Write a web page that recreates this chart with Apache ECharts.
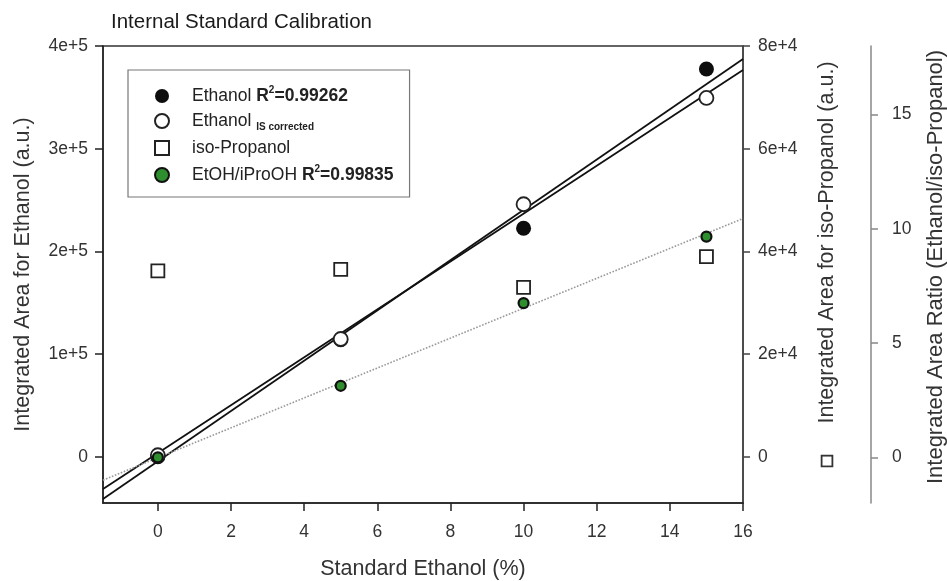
<!DOCTYPE html>
<html>
<head>
<meta charset="utf-8">
<title>Internal Standard Calibration</title>
<script src="https://cdn.jsdelivr.net/npm/echarts@6/dist/echarts.min.js"></script>
<style>
  html, body { margin: 0; padding: 0; background: #fff; }
  #chart { width: 947px; height: 581px; }
</style>
</head>
<body>
<div id="chart"></div>
<script>
// standard ethanol concentrations (%)
var xValues = [0, 5, 10, 15]
// integrated areas
var ethanol = [0, 114000, 222500, 377600]
var ethanolCorrected = [1500, 114700, 245900, 349400]
var isoPropanol = [36200, 36500, 33000, 39000]
var ratio = [0, 3.13, 6.75, 9.66]
// regression lines, end points read at the plot edges
var ethanolFit = [[-1.5, -41100], [16, 387300]]
var correctedFit = [[-1.5, -31400], [16, 376600]]
var ratioFit = [[-1.5, -1.0], [16, 10.45]]
// tick values and labels
var xTicks = [0, 2, 4, 6, 8, 10, 12, 14, 16]
var leftTicks = [0, 100000, 200000, 300000, 400000]
var leftTickLabels = ['0', '1e+5', '2e+5', '3e+5', '4e+5']
var isoTicks = [0, 20000, 40000, 60000, 80000]
var isoTickLabels = ['0', '2e+4', '4e+4', '6e+4', '8e+4']
var ratioTicks = [0, 5, 10, 15]

var FONT = "'Liberation Sans', Arial, sans-serif"

function pairs(ys) {
  return xValues.map(function (x, i) { return [x, ys[i]] })
}
function labelFrom(ticks, labels) {
  return function (v) {
    var i = ticks.indexOf(v)
    return i >= 0 ? labels[i] : ''
  }
}

var chart = echarts.init(document.getElementById('chart'), null, { renderer: 'canvas' })

var legendLabels = {
  'Ethanol': '{sp| }{t|Ethanol }{b|R}{sup|2}{b|=0.99262}',
  'Ethanol IS corrected': '{sp| }{t|Ethanol }{sub|IS corrected}',
  'iso-Propanol': '{sp| }{t|iso-Propanol}',
  'EtOH/iProOH': '{sp| }{t|EtOH/iProOH }{b|R}{sup|2}{b|=0.99835}'
}

chart.setOption({
  animation: false,
  textStyle: { fontFamily: FONT },
  title: {
    text: 'Internal Standard Calibration',
    left: 106,
    top: 7,
    textStyle: { fontFamily: FONT, fontSize: 20.5, fontWeight: 'normal', color: '#1a1a1a' }
  },
  grid: {
    left: 103,
    right: 204,
    top: 46,
    bottom: 78,
    outerBoundsMode: 'none',
    containLabel: false,
    show: true,
    borderColor: '#333',
    borderWidth: 1.5
  },
  legend: {
    data: ['Ethanol', 'Ethanol IS corrected', 'iso-Propanol', 'EtOH/iProOH'],
    orient: 'vertical',
    left: 128,
    top: 70,
    padding: [15, 16, 13, 26],
    itemWidth: 14,
    itemHeight: 14,
    itemGap: 7,
    borderColor: '#777',
    borderWidth: 1.2,
    selectedMode: false,
    formatter: function (name) { return legendLabels[name] },
    textStyle: {
      fontFamily: FONT,
      color: '#222',
      rich: {
        sp: { width: 18, lineHeight: 22 },
        t: { fontSize: 17.5, lineHeight: 22, color: '#222' },
        b: { fontSize: 17.5, lineHeight: 22, fontWeight: 'bold', color: '#222' },
        sup: { fontSize: 10, lineHeight: 12, fontWeight: 'bold', verticalAlign: 'top', color: '#222' },
        sub: { fontSize: 10, lineHeight: 10, fontWeight: 'bold', verticalAlign: 'bottom', color: '#222' }
      }
    }
  },
  xAxis: {
    type: 'value',
    min: -1.5,
    max: 16,
    name: 'Standard Ethanol (%)',
    nameLocation: 'middle',
    nameGap: 55,
    nameTextStyle: { fontFamily: FONT, fontSize: 21.5, color: '#333' },
    axisLine: { onZero: false, lineStyle: { color: '#222', width: 1.5 } },
    axisTick: { show: true, inside: false, length: 8, customValues: xTicks, lineStyle: { color: '#222', width: 1.5 } },
    axisLabel: { customValues: xTicks, margin: 20, fontSize: 17.5, color: '#333', fontFamily: FONT },
    splitLine: { show: false }
  },
  yAxis: [
    {
      type: 'value',
      position: 'left',
      min: -45000,
      max: 400000,
      name: 'Integrated Area for Ethanol (a.u.)',
      nameLocation: 'middle',
      nameGap: 69,
      nameTextStyle: { fontFamily: FONT, fontSize: 21.5, color: '#333' },
      axisLine: { show: true, onZero: false, lineStyle: { color: '#222', width: 1.5 } },
      axisTick: { show: true, length: 8, customValues: leftTicks, lineStyle: { color: '#222', width: 1.5 } },
      axisLabel: { customValues: leftTicks, margin: 15, fontSize: 17.5, color: '#333', fontFamily: FONT,
        formatter: labelFrom(leftTicks, leftTickLabels) },
      splitLine: { show: false }
    },
    {
      type: 'value',
      position: 'right',
      min: -9000,
      max: 80000,
      name: '{sq| }{gap| }Integrated Area for iso-Propanol (a.u.)',
      nameLocation: 'middle',
      nameGap: 73,
      nameTextStyle: {
        fontFamily: FONT, fontSize: 21.5, color: '#333', padding: [0, 0, 0, 22],
        rich: {
          sq: { width: 9, height: 9, borderColor: '#333', borderWidth: 1.8, backgroundColor: '#fff' },
          gap: { width: 33 }
        }
      },
      axisLine: { show: true, onZero: false, lineStyle: { color: '#444', width: 1.5 } },
      axisTick: { show: true, length: 7, customValues: isoTicks, lineStyle: { color: '#444', width: 1.5 } },
      axisLabel: { customValues: isoTicks, margin: 15, fontSize: 17.5, color: '#333', fontFamily: FONT,
        formatter: labelFrom(isoTicks, isoTickLabels) },
      splitLine: { show: false }
    },
    {
      type: 'value',
      position: 'right',
      offset: 128,
      min: -2,
      max: 18,
      name: 'Integrated Area Ratio (Ethanol/iso-Propanol)',
      nameLocation: 'middle',
      nameGap: 54,
      nameTextStyle: { fontFamily: FONT, fontSize: 22, color: '#333', padding: [0, 0, 0, 15] },
      axisLine: { show: true, onZero: false, lineStyle: { color: '#888', width: 1.5 } },
      axisTick: { show: true, length: 7, customValues: ratioTicks, lineStyle: { color: '#888', width: 1.5 } },
      axisLabel: { customValues: ratioTicks, margin: 21, fontSize: 17.5, color: '#333', fontFamily: FONT },
      splitLine: { show: false }
    }
  ],
  series: [
    {
      name: 'Ethanol fit',
      type: 'line',
      yAxisIndex: 0,
      data: ethanolFit,
      showSymbol: false,
      silent: true,
      z: 2,
      lineStyle: { color: '#111', width: 1.8 }
    },
    {
      name: 'Corrected fit',
      type: 'line',
      yAxisIndex: 0,
      data: correctedFit,
      showSymbol: false,
      silent: true,
      z: 2,
      lineStyle: { color: '#111', width: 1.8 }
    },
    {
      name: 'Ratio fit',
      type: 'line',
      yAxisIndex: 2,
      data: ratioFit,
      showSymbol: false,
      silent: true,
      z: 2,
      lineStyle: { color: '#999', width: 1.6, type: 'dotted' }
    },
    {
      name: 'Ethanol',
      type: 'scatter',
      yAxisIndex: 0,
      data: pairs(ethanol),
      symbol: 'circle',
      symbolSize: 15,
      z: 3,
      itemStyle: { color: '#0d0d0d', opacity: 1 }
    },
    {
      name: 'Ethanol IS corrected',
      type: 'scatter',
      yAxisIndex: 0,
      data: pairs(ethanolCorrected),
      symbol: 'circle',
      symbolSize: 14,
      z: 4,
      itemStyle: { color: '#fff', borderColor: '#222', borderWidth: 1.8, opacity: 1 }
    },
    {
      name: 'iso-Propanol',
      type: 'scatter',
      yAxisIndex: 1,
      data: pairs(isoPropanol),
      symbol: 'rect',
      symbolSize: 13,
      z: 4,
      itemStyle: { color: '#fff', borderColor: '#222', borderWidth: 1.8, opacity: 1 }
    },
    {
      name: 'EtOH/iProOH',
      type: 'scatter',
      yAxisIndex: 2,
      data: pairs(ratio),
      symbol: 'circle',
      symbolSize: 10,
      z: 5,
      itemStyle: { color: '#2f8f2f', borderColor: '#111', borderWidth: 2.2, opacity: 1 }
    }
  ]
})
</script>
</body>
</html>
